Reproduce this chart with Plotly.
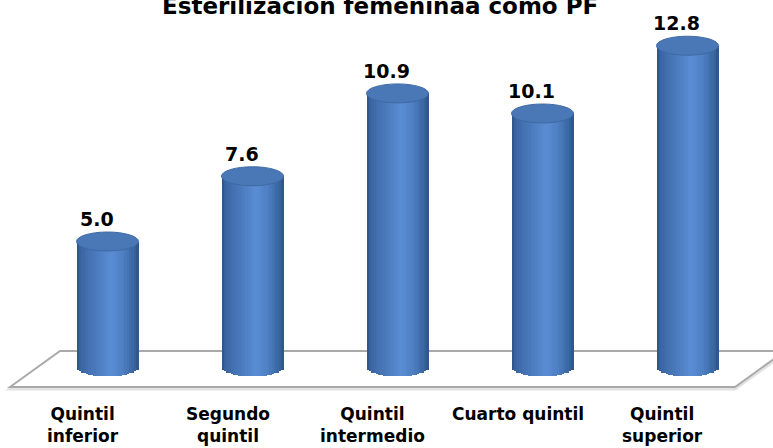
import plotly.graph_objects as go
import numpy as np

# ---- data ----
categories = ["Quintil<br>inferior", "Segundo<br>quintil", "Quintil<br>intermedio",
              "Cuarto quintil", "Quintil<br>superior"]
values = [5.0, 7.6, 10.9, 10.1, 12.8]
value_labels = ["5.0", "7.6", "10.9", "10.1", "12.8"]
title_text = "Esterilización femeninaa como PF"

# ---- layout constants (pixels) ----
W, H = 773, 448
X0_PX, DX_PX = 107.5, 145.0      # first bar centre, spacing
Y0_PX, DY_PX = 367.0, 25.1       # baseline pixel, pixels per unit
BAR_PX = 62.0
CAP_H = 19.0

xpos = list(range(len(values)))
x_range = [-X0_PX / DX_PX, (W - X0_PX) / DX_PX]
y_range = [-(H - Y0_PX) / DY_PX, Y0_PX / DY_PX]
bar_w = BAR_PX / DX_PX
depth = (CAP_H / 2) / DY_PX

stops = [(0.00, (0x2c, 0x52, 0x84)), (0.07, (0x3b, 0x66, 0xa2)), (0.25, (0x47, 0x75, 0xb6)),
         (0.55, (0x5a, 0x8d, 0xd4)), (0.75, (0x4e, 0x7f, 0xc3)), (0.92, (0x3a, 0x66, 0xa1)),
         (1.00, (0x2c, 0x53, 0x85))]


def col(u):
    for (a, ca), (b, cb) in zip(stops[:-1], stops[1:]):
        if a <= u <= b:
            t = (u - a) / (b - a)
            c = [round(ca[i] + (cb[i] - ca[i]) * t) for i in range(3)]
            return "rgb(%d,%d,%d)" % tuple(c)
    return "rgb(44,83,133)"


fig = go.Figure()
N = 26
sw = bar_w / N
for k in range(N):
    u = (k + 0.5) / N
    base_k = -depth * np.sqrt(max(0.0, 1 - (2 * u - 1) ** 2))
    fig.add_trace(go.Bar(
        x=xpos, y=[v - base_k for v in values], base=base_k,
        width=sw * 1.15, offset=-bar_w / 2 + k * sw,
        marker=dict(color=col(u), line=dict(width=0)),
        hoverinfo="skip", showlegend=False))

shapes = []
# floor (paper coordinates)
floor_px = [(10, 387), (60, 351), (785, 351), (735, 387)]
def fpath(dx=0, dy=0):
    pts = [((x + dx) / W, 1 - (y + dy) / H) for x, y in floor_px]
    return "M " + " L ".join("%f,%f" % p for p in pts) + " Z"
shapes.append(dict(type="path", xref="paper", yref="paper", path=fpath(0, 2),
                   line=dict(color="#e2e2e2", width=3), fillcolor="rgba(0,0,0,0)", layer="below"))
shapes.append(dict(type="path", xref="paper", yref="paper", path=fpath(),
                   line=dict(color="#a9a9a9", width=2), fillcolor="white", layer="below"))

# cylinder caps
for i, v in zip(xpos, values):
    shapes.append(dict(type="circle", xref="x", yref="y", xsizemode="pixel", ysizemode="pixel",
                       xanchor=i, yanchor=v, x0=-BAR_PX / 2, x1=BAR_PX / 2,
                       y0=-CAP_H / 2, y1=CAP_H / 2,
                       fillcolor="#4a78b6", line=dict(color="#3e69a2", width=1), layer="above"))

annotations = []
for i, v, t in zip(xpos, values, value_labels):
    annotations.append(dict(x=i, y=v, xref="x", yref="y", text="<b>%s</b>" % t,
                            showarrow=False, yanchor="bottom", yshift=CAP_H / 2, xshift=-11,
                            font=dict(family="DejaVu Sans", size=19, color="black")))
for i, c in zip(xpos, categories):
    annotations.append(dict(x=i, y=1 - 402 / H, xref="x", yref="paper", text="<b>%s</b>" % c,
                            showarrow=False, yanchor="top", xanchor="center", xshift=-25,
                            font=dict(family="DejaVu Sans", size=17, color="black")))
annotations.append(dict(x=380 / W, y=1 - 21 / H, xref="paper", yref="paper",
                        text="<b>%s</b>" % title_text, showarrow=False,
                        yanchor="bottom", xanchor="center",
                        font=dict(family="DejaVu Sans", size=23, color="black")))

fig.update_layout(
    width=W, height=H, margin=dict(l=0, r=0, t=0, b=0),
    paper_bgcolor="white", plot_bgcolor="rgba(0,0,0,0)",
    barmode="overlay", bargap=0,
    xaxis=dict(range=x_range, visible=False, fixedrange=True),
    yaxis=dict(range=y_range, visible=False, fixedrange=True),
    shapes=shapes, annotations=annotations, showlegend=False,
)
fig.write_html("out.html", config={"displayModeBar": False},
               post_script="document.body.style.margin='0';document.body.style.overflow='hidden';")
